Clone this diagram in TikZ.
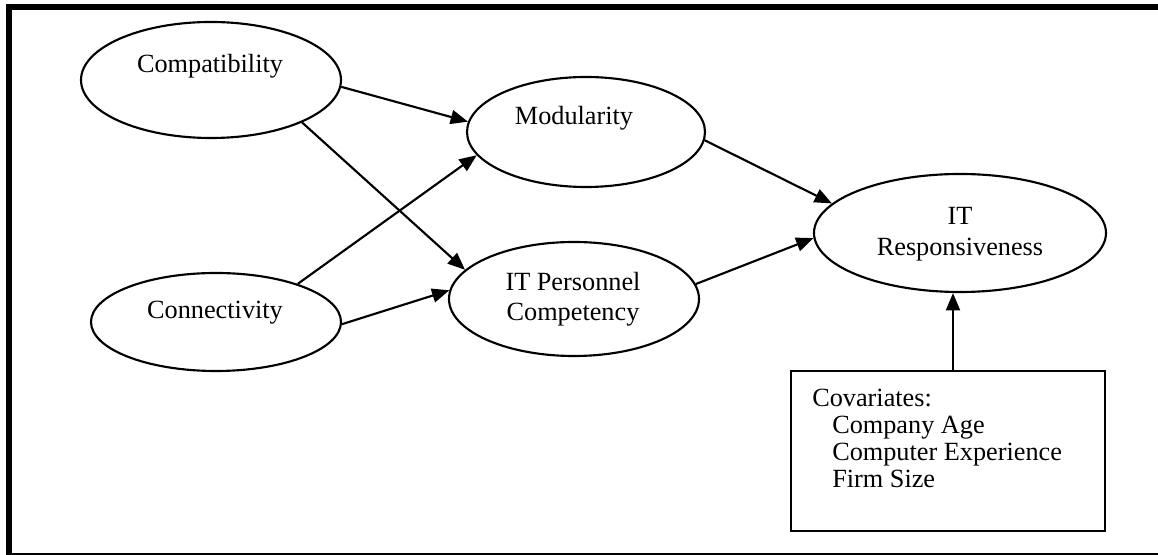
\documentclass[tikz,border=0pt]{standalone}
\usepackage{fontspec}
\setmainfont{Liberation Serif}
\usetikzlibrary{shapes.geometric,arrows.meta}
\begin{document}
\begin{tikzpicture}[x=0.75pt,y=-0.75pt,
  ell/.style={ellipse,draw,line width=1.6pt,inner sep=0pt},
  lbl/.style={font=\fontsize{19.7}{22.9}\selectfont,inner sep=0pt},
  lbltwo/.style={font=\fontsize{19.7}{22.9}\selectfont,inner sep=0pt,align=center},
  covtext/.style={font=\fontsize{19.7}{20.25}\selectfont,inner sep=0pt,align=left},
  arr/.style={line width=1.6pt,-{Triangle[length=13pt,width=10.5pt]}},
  ]
\useasboundingbox (0,0) rectangle (1158,555);
\clip (0,0) rectangle (1158,555);
\draw[line width=4.5pt] (9,7) rectangle (1168,556);

\node[ell,minimum width=195pt,minimum height=87pt] (comp) at (211,80) {};
\node[ell,minimum width=178.5pt,minimum height=82.5pt] (mod) at (586,132) {};
\node[ell,minimum width=187.5pt,minimum height=85.5pt] (itpc) at (574,299) {};
\node[ell,minimum width=187.5pt,minimum height=73.5pt] (conn) at (216,322) {};
\node[ell,minimum width=219pt,minimum height=88.5pt] (itr) at (960,233) {};
\node[draw,line width=1.6pt,minimum width=235.5pt,minimum height=120pt,inner sep=0pt] (cov) at (948,451) {};

\node[lbl,anchor=base] (compT) at (210,73) {Compatibility};
\node[lbl,anchor=base] (modT) at (574,125) {Modularity};
\node[lbl,anchor=base] (connT) at (215,319) {Connectivity};
\node[lbltwo] (itpcT) at (573,299) {IT Personnel\\Competency};
\node[lbltwo] (itrT) at (960,234) {IT\\Responsiveness};
\node[covtext,anchor=north west] (covT) at (812,389) {Covariates:\\\hspace*{15pt}Company Age\\\hspace*{15pt}Computer Experience\\\hspace*{15pt}Firm Size};

\draw[arr] (comp.-3.5) -- (mod.175.2);
\draw[arr] (comp.-25.3) -- (itpc.165.8);
\draw[arr] (conn.25.2) -- (mod.192.9);
\draw[arr] (conn.-1) -- (itpc.176.8);
\draw[arr] (mod.-4.9) -- (itr.167.6);
\draw[arr] (itpc.7.8) -- (itr.182.7);
\draw[arr] ([xshift=3.75pt]cov.north) -- ([xshift=3.75pt]cov.north |- itr.south);
\end{tikzpicture}
\end{document}
